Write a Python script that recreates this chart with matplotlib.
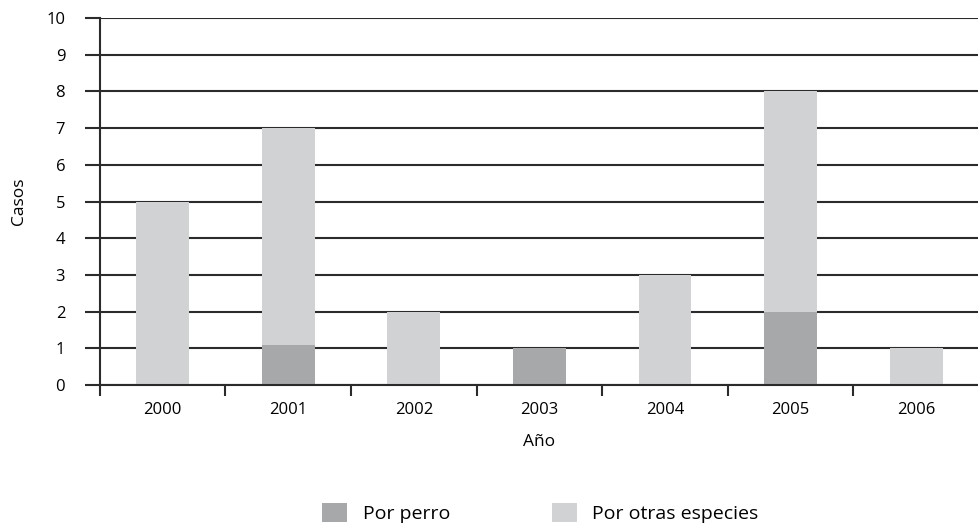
import matplotlib
matplotlib.use("Agg")
from matplotlib import pyplot as plt

years = ['2000', '2001', '2002', '2003', '2004', '2005', '2006']
por_perro = [0, 1.1, 0, 1, 0, 2, 0]
por_otras = [5, 5.9, 2, 0, 3, 6, 1]

plt.rcParams['font.family'] = ['Open Sans', 'DejaVu Sans']

fig = plt.figure(figsize=(9.79, 5.29), dpi=100)
ax = fig.add_axes([0.102, 0.272, 0.898, 0.694])

x = list(range(len(years)))
ax.bar(x, por_perro, width=0.42, color='#a7a8aa', zorder=3, label='Por perro')
ax.bar(x, por_otras, width=0.42, bottom=por_perro, color='#d1d2d4', zorder=3,
       label='Por otras especies')

ax.set_xlim(-0.5, 6.5)
ax.set_ylim(0, 10)
ax.set_yticks(range(0, 11))
ax.yaxis.grid(True, color='#2b2b2b', linewidth=1.5, zorder=1)
ax.set_axisbelow(True)

ax.set_xticks(x)
ax.set_xticklabels(years, fontsize=12)
ax.set_xticks([i + 0.5 for i in range(-1, 6)], minor=True)
ax.tick_params(axis='x', which='major', length=0, pad=12)
ax.tick_params(axis='x', which='minor', length=8, width=1.5, color='#2b2b2b')
ax.tick_params(axis='y', length=11, width=1.5, color='#2b2b2b', labelsize=12, pad=14)

for s in ['top', 'right']:
    ax.spines[s].set_visible(False)
for s in ['left', 'bottom']:
    ax.spines[s].set_linewidth(1.5)
    ax.spines[s].set_color('#2b2b2b')
    ax.spines[s].set_zorder(4)

ax.set_ylabel('Casos', fontsize=12.5, labelpad=14)
ax.set_xlabel('Año', fontsize=12.5, labelpad=12)

handles, labels = ax.get_legend_handles_labels()
fig.legend(handles, labels, loc='center', bbox_to_anchor=(0.552, 0.03), ncol=2,
           frameon=False, fontsize=14, handlelength=1.3, handleheight=1.1,
           columnspacing=5.2)

fig.savefig('out.png', dpi=100)
